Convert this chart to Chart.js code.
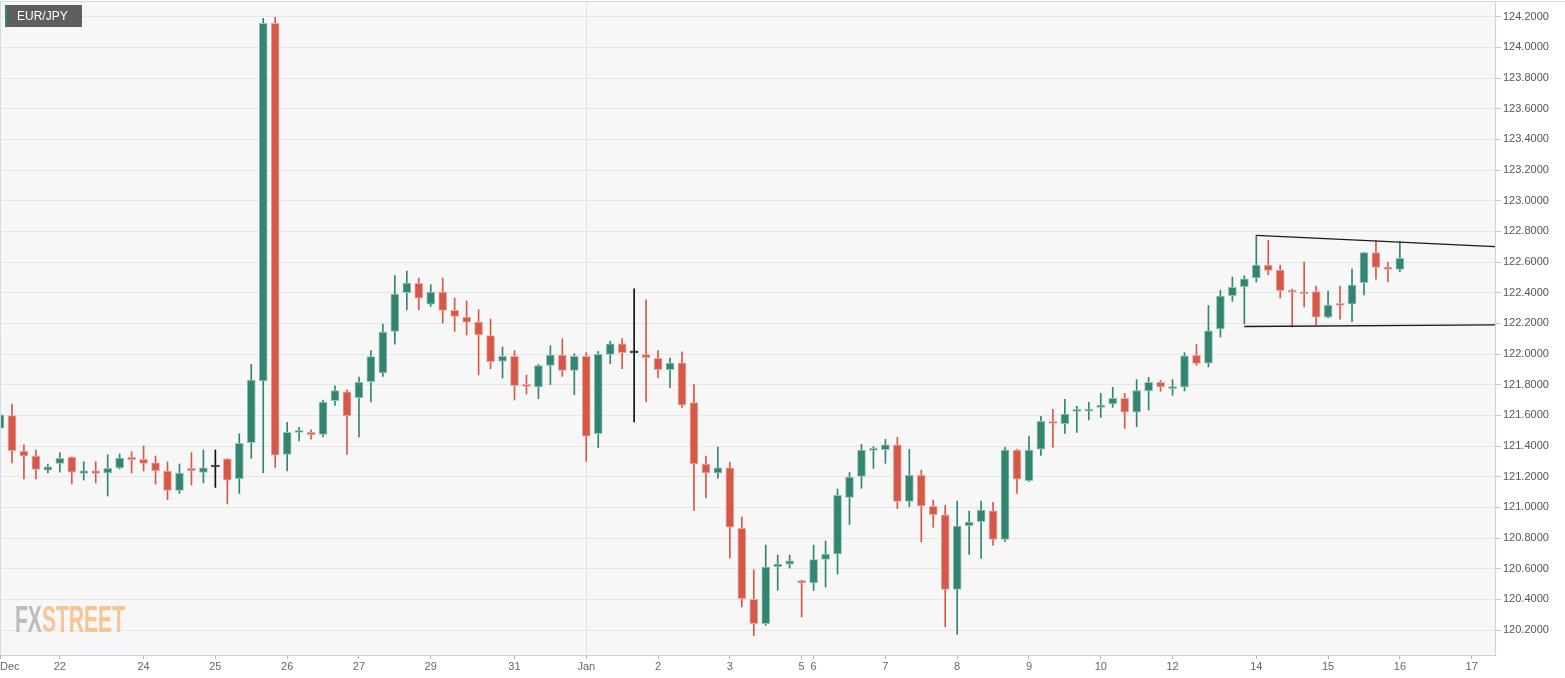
<!DOCTYPE html>
<html>
<head>
<meta charset="utf-8">
<title>EUR/JPY</title>
<script src="https://cdn.jsdelivr.net/npm/chart.js@4.4.0/dist/chart.umd.min.js"></script>
<style>
  html, body { margin: 0; padding: 0; background: #fff; }
  #wrap { width: 1565px; height: 678px; position: relative; }
</style>
</head>
<body>
<div id="wrap"><canvas id="chart"></canvas></div>
<script>
"use strict";

// 4h candles, index 0 = first candle on the left edge
const opens = [
  121.517, 121.598, 121.367, 121.335, 121.243, 121.287, 121.328, 121.222, 121.239, 121.224,
  121.257, 121.326, 121.313, 121.291, 121.237, 121.111, 121.254, 121.228, 121.263, 121.317,
  121.187, 121.422, 121.824, 124.157, 121.346, 121.489, 121.489, 121.475, 121.696, 121.754,
  121.715, 121.820, 121.876, 122.148, 122.400, 122.461, 122.326, 122.404, 122.285, 122.241,
  122.209, 122.120, 121.954, 121.985, 121.795, 121.785, 121.926, 121.993, 121.893, 121.985,
  121.480, 121.998, 122.067, 122.007, 121.996, 121.972, 121.898, 121.943, 121.683, 121.283,
  121.224, 121.257, 120.863, 120.400, 120.241, 120.613, 120.630, 120.522, 120.507, 120.661,
  120.696, 121.065, 121.202, 121.372, 121.376, 121.407, 121.039, 121.209, 121.007, 120.952,
  120.465, 120.880, 120.907, 120.978, 120.791, 121.374, 121.174, 121.380, 121.561, 121.546,
  121.626, 121.628, 121.652, 121.674, 121.711, 121.620, 121.759, 121.815, 121.774, 121.785,
  121.991, 121.941, 122.163, 122.380, 122.439, 122.496, 122.580, 122.548, 122.413, 122.400,
  122.407, 122.241, 122.326, 122.326, 122.465, 122.661, 122.567, 122.552
];
const highs = [
  121.630, 121.674, 121.407, 121.374, 121.283, 121.357, 121.330, 121.298, 121.298, 121.343,
  121.348, 121.363, 121.400, 121.335, 121.296, 121.283, 121.357, 121.374, 121.374, 121.317,
  121.480, 121.933, 124.189, 124.196, 121.554, 121.522, 121.505, 121.700, 121.793, 121.767,
  121.850, 122.022, 122.196, 122.511, 122.541, 122.496, 122.452, 122.496, 122.365, 122.346,
  122.289, 122.228, 122.046, 122.022, 121.863, 121.933, 122.054, 122.100, 122.002, 122.009,
  122.017, 122.083, 122.100, 122.426, 122.354, 122.022, 121.974, 122.015, 121.800, 121.335,
  121.393, 121.296, 120.937, 120.593, 120.754, 120.689, 120.689, 120.525, 120.754, 120.780,
  121.120, 121.228, 121.411, 121.396, 121.443, 121.457, 121.378, 121.243, 121.048, 121.013,
  121.041, 120.976, 121.041, 121.033, 121.391, 121.378, 121.465, 121.593, 121.639, 121.704,
  121.659, 121.685, 121.743, 121.783, 121.743, 121.833, 121.848, 121.828, 121.833, 122.009,
  122.063, 122.317, 122.417, 122.502, 122.511, 122.774, 122.743, 122.580, 122.424, 122.600,
  122.443, 122.411, 122.443, 122.554, 122.663, 122.739, 122.600, 122.733
];
const lows = [
  121.439, 121.289, 121.185, 121.185, 121.224, 121.230, 121.152, 121.178, 121.159, 121.074,
  121.250, 121.224, 121.237, 121.152, 121.050, 121.091, 121.146, 121.159, 121.130, 121.022,
  121.091, 121.320, 121.226, 121.261, 121.237, 121.433, 121.445, 121.460, 121.665, 121.345,
  121.460, 121.687, 121.854, 122.065, 122.289, 122.289, 122.311, 122.202, 122.148, 122.124,
  121.863, 121.904, 121.843, 121.700, 121.739, 121.709, 121.800, 121.854, 121.735, 121.300,
  121.390, 121.937, 121.904, 121.557, 121.689, 121.846, 121.780, 121.652, 120.980, 121.061,
  121.191, 120.670, 120.350, 120.163, 120.230, 120.459, 120.604, 120.285, 120.457, 120.480,
  120.565, 120.889, 121.124, 121.254, 121.287, 120.993, 121.004, 120.776, 120.870, 120.222,
  120.172, 120.693, 120.667, 120.752, 120.776, 121.091, 121.167, 121.339, 121.391, 121.483,
  121.489, 121.570, 121.587, 121.652, 121.515, 121.526, 121.635, 121.757, 121.730, 121.759,
  121.926, 121.915, 122.111, 122.343, 122.196, 122.470, 122.517, 122.365, 122.176, 122.307,
  122.191, 122.235, 122.228, 122.211, 122.385, 122.489, 122.470, 122.535
];
const closes = [
  121.604, 121.370, 121.335, 121.248, 121.265, 121.320, 121.230, 121.239, 121.222, 121.254,
  121.322, 121.311, 121.287, 121.239, 121.111, 121.224, 121.239, 121.257, 121.263, 121.178,
  121.417, 121.830, 124.157, 121.341, 121.489, 121.497, 121.474, 121.687, 121.761, 121.596,
  121.815, 121.983, 122.143, 122.391, 122.463, 122.365, 122.404, 122.285, 122.246, 122.207,
  122.124, 121.950, 121.985, 121.793, 121.789, 121.924, 121.993, 121.893, 121.985, 121.465,
  121.998, 122.067, 122.009, 122.007, 121.976, 121.898, 121.941, 121.667, 121.283, 121.224,
  121.257, 120.870, 120.404, 120.241, 120.611, 120.630, 120.652, 120.507, 120.659, 120.696,
  121.078, 121.198, 121.374, 121.378, 121.407, 121.039, 121.209, 121.009, 120.952, 120.465,
  120.878, 120.904, 120.983, 120.791, 121.374, 121.183, 121.374, 121.561, 121.548, 121.609,
  121.633, 121.641, 121.667, 121.711, 121.620, 121.761, 121.815, 121.785, 121.783, 121.989,
  121.939, 122.152, 122.378, 122.435, 122.491, 122.580, 122.546, 122.413, 122.404, 122.393,
  122.241, 122.320, 122.317, 122.450, 122.661, 122.565, 122.552, 122.624
];

// date labels and the candle index they sit on
const tickIndex = [0, 5, 12, 18, 24, 30, 36, 43, 49, 55, 61, 67, 68, 74, 80, 86, 92, 98, 105, 111, 117, 123];
const tickText = ['Dec', '22', '24', '25', '26', '27', '29', '31', 'Jan', '2', '3', '5', '6', '7', '8', '9', '10', '12', '14', '15', '16', '17'];

// drawn trend lines [index, price]
const upperTrend = [[105, 122.774], [125, 122.700]];
const lowerTrend = [[104, 122.180], [125, 122.190]];

const UP = '#338572', UP_EDGE = '#93c2b6';
const DOWN = '#d55849', DOWN_EDGE = '#eaa89f';
const FLAT = '#111111', FLAT_EDGE = '#444444';
const FONT = 'Liberation Sans, Arial, sans-serif';
const X_MAX = 124.95;

function dir(i) {
    return closes[i] > opens[i] ? 1 : (closes[i] < opens[i] ? -1 : 0);
}
function fillColor(i) {
    const d = dir(i);
    return d > 0 ? UP : (d < 0 ? DOWN : FLAT);
}
function edgeColor(i) {
    const d = dir(i);
    return d > 0 ? UP_EDGE : (d < 0 ? DOWN_EDGE : FLAT_EDGE);
}

const frame = {
    id: 'frame',
    beforeDraw(chart) {
        const {ctx, chartArea: a, width, height} = chart;
        ctx.save();
        ctx.fillStyle = '#ffffff';
        ctx.fillRect(0, 0, width, height);
        ctx.fillStyle = '#f7f7f7';
        ctx.fillRect(a.left, a.top, a.right - a.left, a.bottom - a.top);
        ctx.restore();
    },
    beforeDatasetsDraw(chart) {
        const {ctx, chartArea: a} = chart;
        ctx.save();
        ctx.font = 'bold 36px ' + FONT;
        ctx.textBaseline = 'alphabetic';
        const w1 = ctx.measureText('FX').width;
        const w = ctx.measureText('FXSTREET').width;
        const sx = 110 / w;
        ctx.translate(a.left + 15, a.bottom - 23);
        ctx.scale(sx, 1);
        ctx.fillStyle = '#bdbdbd';
        ctx.fillText('FX', 0, 0);
        ctx.fillStyle = '#f7c592';
        ctx.fillText('STREET', w1, 0);
        ctx.restore();
    },
    afterDraw(chart) {
        const {ctx, chartArea: a, width} = chart;
        ctx.save();
        ctx.strokeStyle = '#d3daea';
        ctx.lineWidth = 1;
        ctx.beginPath();
        ctx.moveTo(0, a.top - 0.5);
        ctx.lineTo(width, a.top - 0.5);
        ctx.moveTo(0.5, a.top);
        ctx.lineTo(0.5, a.bottom);
        ctx.stroke();

        ctx.fillStyle = '#5f5f5f';
        ctx.fillRect(5, 5, 77, 22);
        ctx.fillStyle = '#2e8b6f';
        ctx.fillRect(5, 5, 2, 22);
        ctx.fillStyle = '#ffffff';
        ctx.font = '12px ' + FONT;
        ctx.textBaseline = 'middle';
        ctx.fillText('EUR/JPY', 17, 16.5);
        ctx.restore();
    }
};

document.addEventListener('DOMContentLoaded', () => {
    const canvas = document.getElementById('chart');

    new Chart(canvas, {
        type: 'bar',
        data: {
            datasets: [
                {
                    type: 'line',
                    data: upperTrend.map(p => ({x: p[0], y: p[1]})),
                    borderColor: '#1a1a1a',
                    borderWidth: 1.2,
                    pointRadius: 0,
                    order: -1
                },
                {
                    type: 'line',
                    data: lowerTrend.map(p => ({x: p[0], y: p[1]})),
                    borderColor: '#1a1a1a',
                    borderWidth: 1.4,
                    pointRadius: 0,
                    order: -1
                },
                {
                    label: 'body',
                    data: opens.map((o, i) => ({x: i, y: [o, closes[i]]})),
                    backgroundColor: c => fillColor(c.dataIndex),
                    borderColor: c => edgeColor(c.dataIndex),
                    borderWidth: 1,
                    borderSkipped: false,
                    barThickness: 8,
                    minBarLength: 2,
                    grouped: false,
                    order: 0
                },
                {
                    label: 'wick',
                    data: lows.map((l, i) => ({x: i, y: [l, highs[i]]})),
                    backgroundColor: c => fillColor(c.dataIndex),
                    borderWidth: 0,
                    barThickness: 1,
                    grouped: false,
                    order: 1
                }
            ]
        },
        options: {
            responsive: true,
            maintainAspectRatio: false,
            animation: false,
            events: [],
            layout: { padding: { top: 2, left: 0, right: 0, bottom: 0 } },
            plugins: {
                legend: { display: false },
                tooltip: { enabled: false },
                title: { display: false }
            },
            scales: {
                x: {
                    type: 'linear',
                    min: 0,
                    max: X_MAX,
                    offset: false,
                    afterBuildTicks: scale => {
                        scale.ticks = tickIndex.concat([X_MAX]).map(v => ({value: v}));
                    },
                    afterFit: scale => {
                        scale.height = 23;
                        scale.paddingLeft = 0;
                        scale.paddingRight = 0;
                    },
                    ticks: {
                        autoSkip: false,
                        maxRotation: 0,
                        align: 'inner',
                        padding: 1,
                        color: '#666',
                        font: { family: FONT, size: 11 },
                        callback: v => {
                            const i = tickIndex.indexOf(v);
                            return i < 0 ? '' : tickText[i];
                        }
                    },
                    grid: {
                        offset: false,
                        drawOnChartArea: true,
                        color: c => (c.tick && c.tick.value === 49) ? '#e2e2e2' : 'rgba(0,0,0,0)',
                        tickColor: c => (c.tick && c.tick.value > 124) ? 'rgba(0,0,0,0)' : '#b5b5b5',
                        tickLength: 4
                    },
                    border: { color: '#c9d1e3' }
                },
                y: {
                    type: 'linear',
                    position: 'right',
                    min: 120.037,
                    max: 124.296,
                    afterFit: scale => {
                        scale.width = 70;
                        scale.paddingTop = 0;
                        scale.paddingBottom = 0;
                    },
                    ticks: {
                        stepSize: 0.2,
                        includeBounds: false,
                        padding: 2,
                        color: '#555',
                        font: { family: FONT, size: 11 },
                        callback: v => Number(v).toFixed(4)
                    },
                    grid: {
                        color: '#e6e6e6',
                        tickColor: '#c8c8c8',
                        tickLength: 6
                    },
                    border: { color: '#c9d1e3' }
                }
            }
        },
        plugins: [frame]
    });
});
</script>
</body>
</html>
